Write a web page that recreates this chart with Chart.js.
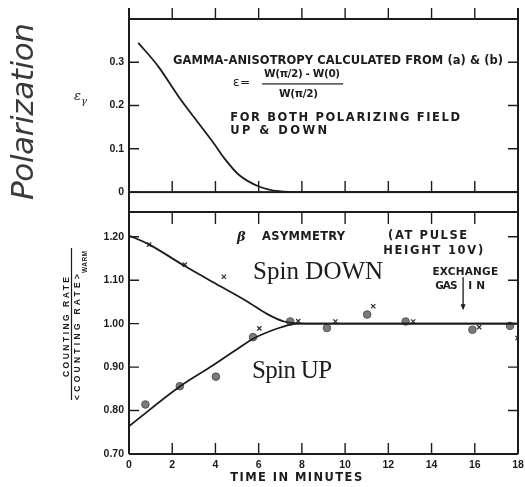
<!DOCTYPE html>
<html>
<head>
<meta charset="utf-8">
<script src="https://cdn.jsdelivr.net/npm/chart.js@4.4.1/dist/chart.umd.min.js"></script>
<style>
  html, body { margin: 0; padding: 0; background: #fff; }
  #wrap { position: relative; width: 525px; height: 487px; }
  #wrap canvas { position: absolute; left: 0; top: 0; }
</style>
</head>
<body>
<div id="wrap">
  <canvas id="gamma" width="525" height="487"></canvas>
  <canvas id="beta" width="525" height="487"></canvas>
</div>
<script>
// time axis, minutes
const xTicks = [0, 2, 4, 6, 8, 10, 12, 14, 16, 18];

// gamma anisotropy (upper panel)
const gammaTime = [0.43, 1.36, 2.29, 3.22, 3.92, 4.46, 5.08, 6.01, 6.94, 8, 10, 12, 14, 16, 18];
const gammaEps  = [0.345, 0.29, 0.221, 0.159, 0.113, 0.075, 0.04, 0.013, 0.002, 0, 0, 0, 0, 0, 0];
const gammaTicks = [0, 0.1, 0.2, 0.3];
const gammaTickLabels = ["0", "0.1", "0.2", "0.3"];

// beta asymmetry (lower panel), fitted curves
const downCurveTime = [0, 0.9, 2.6, 4.23, 5.47, 6.4, 7.17, 7.64, 8.5, 10, 12, 14, 16, 18];
const downCurveRate = [1.203, 1.183, 1.132, 1.086, 1.051, 1.022, 1.005, 1.001, 1.0, 1.0, 1.0, 1.0, 1.0, 1.0];
const upCurveTime = [0, 2.37, 3.76, 4.84, 5.77, 6.7, 7.47, 7.9, 8.5, 10, 12, 14, 16, 18];
const upCurveRate = [0.764, 0.856, 0.9, 0.936, 0.966, 0.986, 0.998, 1.0, 1.0, 1.0, 1.0, 1.0, 1.0, 1.0];

// measured points
const circleTime = [0.76, 2.35, 4.02, 5.74, 7.46, 9.16, 11.02, 12.8, 15.89, 17.63];
const circleRate = [0.814, 0.856, 0.878, 0.969, 1.005, 0.99, 1.021, 1.005, 0.986, 0.995];
const crossTime = [0.93, 2.58, 4.39, 6.03, 7.83, 9.55, 11.3, 13.15, 16.2, 17.98];
const crossRate = [1.182, 1.136, 1.108, 0.989, 1.006, 1.005, 1.04, 1.005, 0.992, 0.967];

const betaTicks = [0.7, 0.8, 0.9, 1.0, 1.1, 1.2];
const betaTickLabels = ["0.70", "0.80", "0.90", "1.00", "1.10", "1.20"];

const INK = "#1c1c1c";
const LETTER = "bold 11.5px 'DejaVu Sans', sans-serif";
const SMALL_LETTER = "bold 10.5px 'DejaVu Sans', sans-serif";

const pts = (xs, ys) => xs.map((x, i) => ({ x: x, y: ys[i] }));

// draw text stretched to a given width
function fitText(ctx, text, x, y, width) {
  ctx.letterSpacing = "0px";
  const natural = ctx.measureText(text).width;
  const gap = text.length > 1 ? (width - natural) / (text.length - 1) : 0;
  if ("letterSpacing" in ctx) {
    ctx.letterSpacing = gap + "px";
    ctx.fillText(text, x, y);
    ctx.letterSpacing = "0px";
  } else {
    let cx = x;
    for (const ch of text) {
      ctx.fillText(ch, cx, y);
      cx += ctx.measureText(ch).width + gap;
    }
  }
}

function drawNotes(chart, notes) {
  const { ctx, scales: { x, y } } = chart;
  ctx.save();
  ctx.fillStyle = INK;
  ctx.textBaseline = "middle";
  ctx.textAlign = "left";
  notes.forEach(n => {
    ctx.font = n.font || LETTER;
    const x0 = x.getPixelForValue(n.x0);
    const x1 = x.getPixelForValue(n.x1);
    fitText(ctx, n.text, x0, y.getPixelForValue(n.y), x1 - x0);
  });
  ctx.restore();
}

// upper panel notes, in data coordinates
const gammaNotes = [
  { text: "GAMMA-ANISOTROPY CALCULATED FROM (a) & (b)", x0: 2.04, x1: 17.31, y: 0.303 },
  { text: "ε =", x0: 4.81, x1: 5.6, y: 0.252, font: "12px 'DejaVu Sans', sans-serif" },
  { text: "W(π/2) - W(0)", x0: 6.25, x1: 9.77, y: 0.272, font: "bold 10.5px 'DejaVu Sans', sans-serif" },
  { text: "W(π/2)", x0: 6.94, x1: 8.75, y: 0.227, font: "bold 10.5px 'DejaVu Sans', sans-serif" },
  { text: "FOR BOTH POLARIZING FIELD", x0: 4.68, x1: 15.32, y: 0.172 },
  { text: "UP & DOWN", x0: 4.68, x1: 9.17, y: 0.142 }
];

// lower panel notes
const betaNotes = [
  { text: "β", x0: 5.0, x1: 5.4, y: 1.199, font: "italic bold 13px 'DejaVu Serif', serif" },
  { text: "ASYMMETRY", x0: 6.16, x1: 10.0, y: 1.199 },
  { text: "(AT PULSE", x0: 11.99, x1: 15.65, y: 1.202 },
  { text: "HEIGHT 10V)", x0: 11.76, x1: 16.39, y: 1.167 },
  { text: "Spin DOWN", x0: 5.74, x1: 11.76, y: 1.119, font: "25px 'Liberation Serif', serif" },
  { text: "Spin UP", x0: 5.69, x1: 9.4, y: 0.889, font: "25px 'Liberation Serif', serif" },
  { text: "EXCHANGE", x0: 14.04, x1: 17.08, y: 1.119, font: SMALL_LETTER },
  { text: "GAS", x0: 14.17, x1: 15.2, y: 1.085, font: SMALL_LETTER },
  { text: "IN", x0: 15.7, x1: 16.48, y: 1.085, font: SMALL_LETTER }
];

// frame lines and inward tick marks of a panel
function drawFrame(chart, yValues, opt) {
  const ctx = chart.ctx, a = chart.chartArea;
  const sx = chart.scales.x, sy = chart.scales.y;
  ctx.save();
  ctx.fillStyle = INK;
  ctx.fillRect(a.left - 1, a.top - opt.above, 2, a.bottom - a.top + opt.above);
  ctx.fillRect(a.right - 1, a.top - opt.above, 2, a.bottom - a.top + opt.above);
  ctx.fillRect(a.left, a.top - 1, a.right - a.left, 2);
  ctx.fillRect(a.left, a.bottom - 1, a.right - a.left, 2);
  if (opt.zero) ctx.fillRect(a.left, sy.getPixelForValue(0) - 1, a.right - a.left, 2);

  ctx.strokeStyle = INK;
  ctx.lineWidth = 1.4;
  ctx.beginPath();
  xTicks.forEach(v => {
    if (v <= sx.min || v >= sx.max) return;
    const px = sx.getPixelForValue(v);
    opt.xMarks.forEach(m => {
      const py = m.at === "top" ? a.top : (m.at === "bottom" ? a.bottom : sy.getPixelForValue(m.at));
      ctx.moveTo(px, py);
      ctx.lineTo(px, py + m.len);
    });
  });
  yValues.forEach(v => {
    const py = sy.getPixelForValue(v);
    if (Math.abs(py - a.bottom) < 2) return;
    ctx.moveTo(a.left, py); ctx.lineTo(a.left + 10, py);
    ctx.moveTo(a.right - 10, py); ctx.lineTo(a.right, py);
  });
  ctx.stroke();
  ctx.restore();
}

function yAxis(min, max, ticks, labels) {
  return {
    type: "linear", position: "left", min: min, max: max,
    grid: { display: false, drawTicks: false },
    border: { display: false },
    afterBuildTicks: ax => { ax.ticks = ticks.map(v => ({ value: v })); },
    afterFit: ax => { ax.width = 129; },
    ticks: {
      padding: 5, color: INK,
      font: { family: "'Liberation Sans', sans-serif", size: 10.5, weight: "bold" },
      callback: v => labels[ticks.indexOf(v)]
    }
  };
}

const common = {
  responsive: false,
  animation: false,
  events: [],
  plugins: { legend: { display: false }, tooltip: { enabled: false } }
};

new Chart(document.getElementById("gamma"), {
  type: "scatter",
  data: {
    datasets: [{
      data: pts(gammaTime, gammaEps),
      showLine: true, borderColor: INK, borderWidth: 1.8,
      pointRadius: 0, cubicInterpolationMode: "monotone"
    }]
  },
  options: Object.assign({}, common, {
    layout: { padding: { top: 19, bottom: 275, left: 0, right: 7 } },
    scales: {
      x: { type: "linear", min: 0, max: 18, display: false },
      y: yAxis(-0.046, 0.40, gammaTicks, gammaTickLabels)
    }
  }),
  plugins: [{
    id: "gammaDeco",
    afterDraw(chart) {
      drawFrame(chart, gammaTicks, {
        above: 11, zero: true,
        xMarks: [{ at: "top", len: -11 }, { at: 0, len: -11 }]
      });
      drawNotes(chart, gammaNotes);
      const { ctx, scales: { x, y } } = chart;
      ctx.save();
      ctx.fillStyle = INK;
      const fx0 = x.getPixelForValue(6.16), fx1 = x.getPixelForValue(9.91);
      ctx.fillRect(fx0, y.getPixelForValue(0.25) - 0.6, fx1 - fx0, 1.2);
      // side labels
      ctx.fillStyle = "#3a3a3a";
      ctx.textBaseline = "middle";
      ctx.font = "italic 31px 'DejaVu Sans', sans-serif";
      ctx.translate(25, 200);
      ctx.rotate(-Math.PI / 2);
      fitText(ctx, "Polarization", 0, 0, 177);
      ctx.restore();
      ctx.save();
      ctx.fillStyle = INK;
      ctx.textBaseline = "middle";
      ctx.font = "italic 13px 'DejaVu Serif', serif";
      ctx.fillText("ε", 74, 97);
      ctx.font = "italic 10px 'DejaVu Serif', serif";
      ctx.fillText("γ", 81, 101);
      ctx.restore();
    }
  }]
});

new Chart(document.getElementById("beta"), {
  type: "scatter",
  data: {
    datasets: [
      { data: pts(downCurveTime, downCurveRate), showLine: true, borderColor: INK, borderWidth: 1.8,
        pointRadius: 0, cubicInterpolationMode: "monotone" },
      { data: pts(upCurveTime, upCurveRate), showLine: true, borderColor: INK, borderWidth: 1.8,
        pointRadius: 0, cubicInterpolationMode: "monotone" },
      { data: pts(circleTime, circleRate), pointStyle: "circle", pointRadius: 3.8,
        backgroundColor: "#7a7a7a", borderColor: "#555", borderWidth: 1 },
      { data: pts(crossTime, crossRate), pointStyle: "crossRot", pointRadius: 3,
        borderColor: "#333", borderWidth: 1.3 }
    ]
  },
  options: Object.assign({}, common, {
    layout: { padding: { top: 212, bottom: 0, left: 0, right: 7 } },
    scales: {
      x: {
        type: "linear", position: "bottom", min: 0, max: 18,
        grid: { display: false, drawTicks: false },
        border: { display: false },
        afterBuildTicks: ax => { ax.ticks = xTicks.map(v => ({ value: v })); },
        afterFit: ax => { ax.height = 33; ax.paddingLeft = 0; ax.paddingRight = 0; },
        ticks: {
          padding: 5, color: INK, autoSkip: false, maxRotation: 0,
          font: { family: "'Liberation Sans', sans-serif", size: 10.5, weight: "bold" },
          callback: v => String(v)
        }
      },
      y: yAxis(0.70, 1.257, betaTicks, betaTickLabels)
    }
  }),
  plugins: [{
    id: "betaDeco",
    afterDraw(chart) {
      drawFrame(chart, betaTicks, {
        above: 0, zero: false,
        xMarks: [{ at: "top", len: 12 }, { at: "bottom", len: -11 }]
      });
      drawNotes(chart, betaNotes);
      const { ctx, chartArea: a, scales: { x, y } } = chart;
      ctx.save();
      ctx.fillStyle = INK;
      // exchange gas arrow
      const ax = x.getPixelForValue(15.46);
      const y0 = y.getPixelForValue(1.107), y1 = y.getPixelForValue(1.031);
      ctx.fillRect(ax - 0.65, y0, 1.3, y1 - 4 - y0);
      ctx.beginPath();
      ctx.moveTo(ax - 2.5, y1 - 6);
      ctx.lineTo(ax + 2.5, y1 - 6);
      ctx.lineTo(ax, y1);
      ctx.closePath();
      ctx.fill();
      // x title
      ctx.font = LETTER;
      ctx.textBaseline = "middle";
      const tx0 = x.getPixelForValue(4.68), tx1 = x.getPixelForValue(10.79);
      fitText(ctx, "TIME IN MINUTES", tx0, a.bottom + 24, tx1 - tx0);
      // y title as a fraction, rotated
      ctx.font = "bold 8.5px 'Liberation Sans', sans-serif";
      ctx.save();
      ctx.translate(66.5, 377);
      ctx.rotate(-Math.PI / 2);
      fitText(ctx, "COUNTING RATE", 0, 0, 100);
      ctx.restore();
      ctx.save();
      ctx.translate(77.5, 400);
      ctx.rotate(-Math.PI / 2);
      fitText(ctx, "<COUNTING RATE>", 0, 0, 126);
      ctx.font = "bold 6.5px 'Liberation Sans', sans-serif";
      fitText(ctx, "WARM", 127, 8, 22);
      ctx.restore();
      ctx.fillRect(70.9, 248, 1.2, 152);
      ctx.restore();
    }
  }]
});
</script>
</body>
</html>
